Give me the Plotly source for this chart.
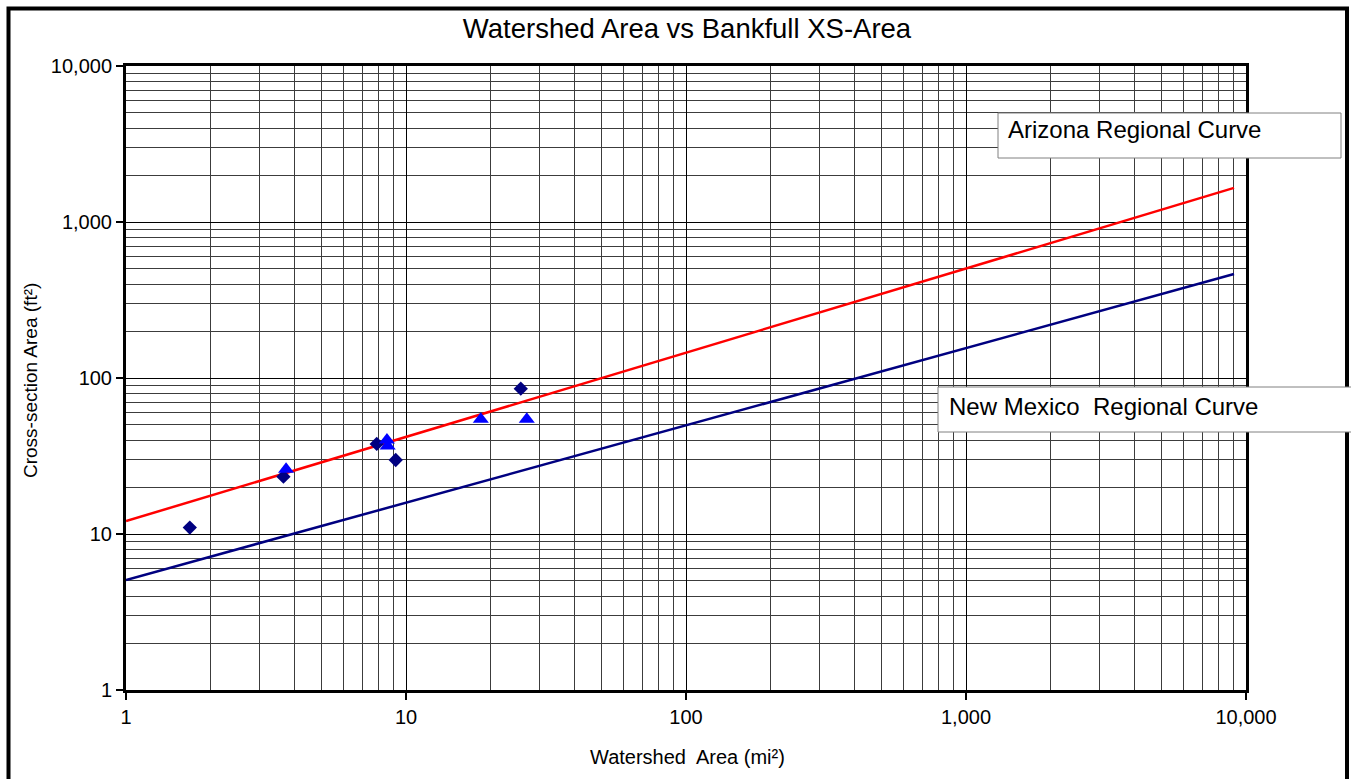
import plotly.graph_objects as go

# Regional curves (drainage area in mi², bankfull cross-section area in ft²)
az_area = [1, 9060]
az_xs = [12.1, 1655]
nm_area = [1, 9060]
nm_xs = [5.07, 464]

# Surveyed reaches
diamond_area = [1.69, 3.65, 7.86, 9.19, 25.7]
diamond_xs = [11.0, 23.3, 37.8, 29.8, 85.4]
triangle_area = [3.73, 8.55, 8.6, 18.5, 27.0]
triangle_xs = [26.0, 40.0, 36.7, 54.4, 54.4]

tick_vals = [1, 10, 100, 1000, 10000]
tick_text = ["1", "10", "100", "1,000", "10,000"]

FONT = "Liberation Sans, Arial, sans-serif"

fig = go.Figure()
fig.add_trace(go.Scatter(x=az_area, y=az_xs, mode="lines",
                         line=dict(color="#FF0000", width=2.5), showlegend=False))
fig.add_trace(go.Scatter(x=nm_area, y=nm_xs, mode="lines",
                         line=dict(color="#000080", width=2.5), showlegend=False))
fig.add_trace(go.Scatter(x=diamond_area, y=diamond_xs, mode="markers",
                         marker=dict(symbol="diamond", size=11, color="#000080"),
                         showlegend=False))
fig.add_trace(go.Scatter(x=triangle_area, y=triangle_xs, mode="markers",
                         marker=dict(symbol="triangle-up", size=14, color="#0000FF"),
                         showlegend=False))

axis_common = dict(
    type="log",
    tickmode="array",
    tickvals=tick_vals,
    ticktext=tick_text,
    ticks="outside",
    ticklen=7,
    tickwidth=2,
    tickcolor="black",
    showline=True,
    linecolor="black",
    linewidth=3,
    mirror=True,
    showgrid=True,
    gridcolor="#000000",
    gridwidth=1,
    zeroline=False,
    tickfont=dict(family=FONT, size=20, color="black"),
    minor=dict(dtick="D1", showgrid=True, gridcolor="#3c3c3c", gridwidth=1.2, ticks=""),
)

fig.update_xaxes(range=[0, 4], **axis_common)
fig.update_yaxes(range=[0, 4], **axis_common)

W0, H0 = 1120, 624  # plot area in px


def px(xp):
    return (xp - 126) / W0


def py(yp):
    return (690 - yp) / H0


shapes = [
    # outer chart frame
    dict(type="rect", xref="paper", yref="paper",
         x0=px(8.5), x1=px(1347), y0=py(800), y1=py(8.5),
         line=dict(color="black", width=4), fillcolor="rgba(0,0,0,0)", layer="below"),
    # curve label boxes
    dict(type="rect", xref="paper", yref="paper",
         x0=px(998), x1=px(1341), y0=py(158), y1=py(113),
         line=dict(color="#808080", width=1), fillcolor="white", layer="above"),
    dict(type="rect", xref="paper", yref="paper",
         x0=px(938), x1=px(1360), y0=py(432), y1=py(387),
         line=dict(color="#808080", width=1), fillcolor="white", layer="above"),
]

annotations = [
    dict(text="Arizona Regional Curve", xref="paper", yref="paper",
         x=px(1006), y=py(130), xanchor="left", yanchor="middle", showarrow=False,
         font=dict(family=FONT, size=24, color="black")),
    dict(text="New Mexico\u00a0 Regional Curve", xref="paper", yref="paper",
         x=px(947), y=py(406), xanchor="left", yanchor="middle", showarrow=False,
         font=dict(family=FONT, size=24, color="black")),
    dict(text="Watershed\u00a0 Area (mi²)", xref="paper", yref="paper",
         x=px(687), y=py(757), xanchor="center", yanchor="middle", showarrow=False,
         font=dict(family=FONT, size=20, color="black")),
    dict(text="Cross-section Area (ft²)", xref="paper", yref="paper",
         x=px(30), y=py(381), xanchor="center", yanchor="middle", showarrow=False,
         textangle=-90, font=dict(family=FONT, size=19, color="black")),
]

fig.update_layout(
    width=1351, height=779,
    margin=dict(l=126, r=105, t=66, b=89),
    paper_bgcolor="white",
    plot_bgcolor="white",
    title=dict(text="Watershed Area vs Bankfull XS-Area", xref="container", yref="container",
               x=687 / 1351, y=1 - 28 / 779, xanchor="center", yanchor="middle",
               font=dict(family=FONT, size=27.5, color="black")),
    shapes=shapes,
    annotations=annotations,
    showlegend=False,
)

fig.write_html("out.html")
